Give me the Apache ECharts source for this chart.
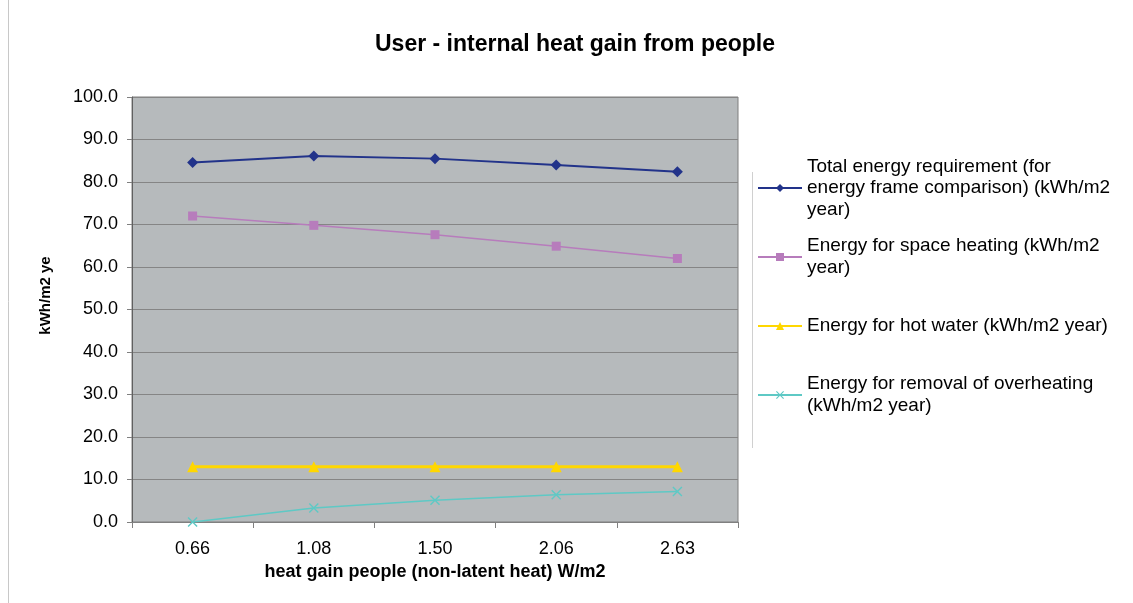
<!DOCTYPE html>
<html>
<head>
<meta charset="utf-8">
<title>ECharts</title>
<script type="text/javascript" src="https://cdn.jsdelivr.net/npm/echarts@6/dist/echarts.min.js"></script>
<style>
	html, body { margin: 0; padding: 0; background: #fff; }
	#main { width: 1133px; height: 603px; }
</style>
</head>
<body>
<div id="main"></div>
<script type="text/javascript">
	// data
	var categories = ['0.66', '1.08', '1.50', '2.06', '2.63'];
	var totalEnergy = [84.6, 86.1, 85.5, 84.0, 82.4];
	var spaceHeating = [72.0, 69.8, 67.6, 64.9, 62.0];
	var hotWater = [13.0, 13.0, 13.0, 13.0, 13.0];
	var overheating = [0.0, 3.3, 5.1, 6.4, 7.2];
	var yTicks = { min: 0, max: 100, interval: 10 };

	var seriesNames = [
		'Total energy requirement (for\nenergy frame comparison) (kWh/m2\nyear)',
		'Energy for space heating (kWh/m2\nyear)',
		'Energy for hot water (kWh/m2 year)',
		'Energy for removal of overheating\n(kWh/m2 year)'
	];

	var font = 'Arial, "Liberation Sans", sans-serif';
	var lineH = 21.5;
	var legendLeft = 757;
	var iconY = [188, 257, 326, 395];
	var crossPath = 'path://M0,1 L1,0 L5,4 L9,0 L10,1 L6,5 L10,9 L9,10 L5,6 L1,10 L0,9 L4,5 Z';

	// one legend per series so the marker sits on the first text line
	var legends = seriesNames.map(function (name, i) {
		var n = name.split('\n').length;
		var h = (2 * n - 1) * lineH;
		return {
			data: [name],
			left: legendLeft,
			top: iconY[i] - h / 2,
			padding: 0,
			itemWidth: 44,
			itemHeight: 10,
			selectedMode: false,
			textStyle: {
				fontFamily: font,
				fontSize: 19,
				color: '#000',
				lineHeight: lineH,
				padding: [(n - 1) * lineH, 0, 0, 0]
			}
		};
	});

	var myChart = echarts.init(document.getElementById('main'));
	var option = {
		backgroundColor: '#fff',
		animation: false,
		title: {
			text: 'User - internal heat gain from people',
			left: 370,
			top: 28,
			textStyle: { fontFamily: font, fontSize: 23, fontWeight: 'bold', color: '#000' }
		},
		legend: legends,
		grid: {
			left: 132,
			right: 395,
			top: 97,
			bottom: 81,
			show: true,
			backgroundColor: '#b6babc',
			borderColor: '#7f7f7f',
			borderWidth: 1
		},
		xAxis: {
			type: 'category',
			data: categories,
			boundaryGap: true,
			name: 'heat gain people (non-latent heat) W/m2',
			nameLocation: 'middle',
			nameGap: 39,
			nameTextStyle: { fontFamily: font, fontSize: 18, fontWeight: 'bold', color: '#000' },
			axisLine: { lineStyle: { color: '#808080', width: 1 } },
			axisTick: { show: true, alignWithLabel: false, length: 6, lineStyle: { color: '#808080' } },
			axisLabel: { fontFamily: font, fontSize: 18, color: '#000', margin: 18 },
			splitLine: { show: false }
		},
		yAxis: {
			type: 'value',
			min: yTicks.min,
			max: yTicks.max,
			interval: yTicks.interval,
			name: 'kWh/m2 year',
			nameLocation: 'middle',
			nameGap: 79,
			// the original label is clipped after "ye"
			nameTruncate: { maxWidth: 80, ellipsis: '' },
			nameTextStyle: {
				fontFamily: font,
				fontSize: 15, fontWeight: 'bold', color: '#000',
				padding: [0, 0, 0, 28]
			},
			axisLine: { show: true, lineStyle: { color: '#606060', width: 1 } },
			axisTick: { show: true, length: 5, lineStyle: { color: '#808080' } },
			axisLabel: {
				fontFamily: font, fontSize: 18, color: '#000', margin: 14,
				formatter: function (v) { return v.toFixed(1); }
			},
			splitLine: { show: true, lineStyle: { color: '#858585', width: 1 } }
		},
		graphic: [
			{ type: 'line', shape: { x1: 8.5, y1: 0, x2: 8.5, y2: 603 }, style: { stroke: '#c8c8c8', lineWidth: 1 } },
			{ type: 'line', shape: { x1: 752.5, y1: 172, x2: 752.5, y2: 448 }, style: { stroke: '#d0d0d0', lineWidth: 1 } }
		],
		series: [{
			name: seriesNames[0],
			type: 'line',
			data: totalEnergy,
			symbol: 'diamond',
			symbolSize: 11,
			color: '#22338a',
			lineStyle: { width: 2, color: '#22338a' },
			itemStyle: { color: '#22338a' }
		}, {
			name: seriesNames[1],
			type: 'line',
			data: spaceHeating,
			symbol: 'rect',
			symbolSize: 9,
			color: '#b77cbc',
			lineStyle: { width: 1.5, color: '#b77cbc' },
			itemStyle: { color: '#b77cbc' }
		}, {
			name: seriesNames[2],
			type: 'line',
			data: hotWater,
			symbol: 'triangle',
			symbolSize: 11,
			color: '#ffd700',
			lineStyle: { width: 3, color: '#ffd700' },
			itemStyle: { color: '#ffd700' }
		}, {
			name: seriesNames[3],
			type: 'line',
			data: overheating,
			symbol: crossPath,
			symbolSize: 10,
			color: '#5ec9c5',
			lineStyle: { width: 1.5, color: '#5ec9c5' },
			itemStyle: { color: '#5ec9c5' }
		}]
	};

	myChart.setOption(option);
</script>
</body>
</html>
